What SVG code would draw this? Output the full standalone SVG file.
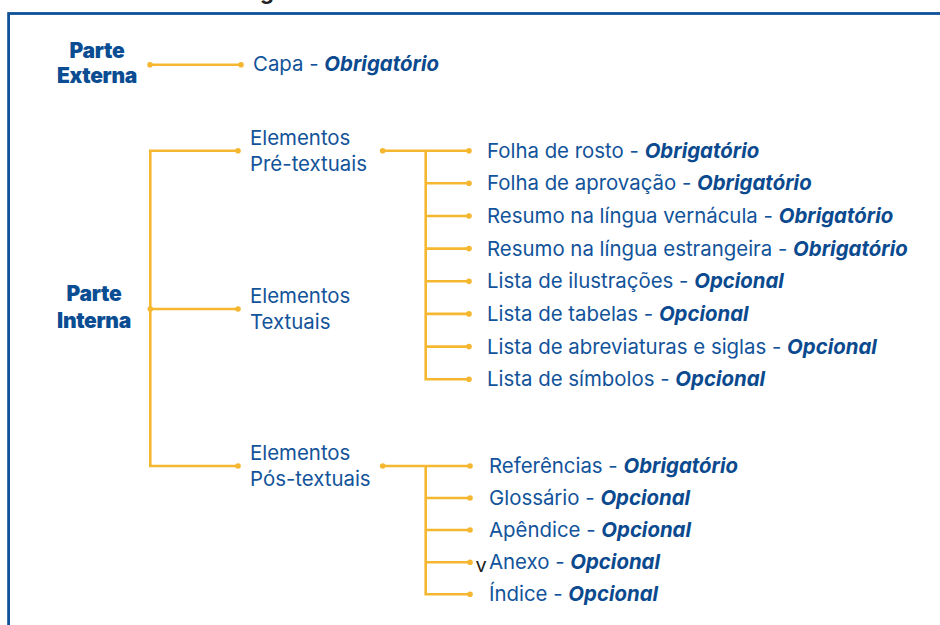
<svg xmlns="http://www.w3.org/2000/svg" width="940" height="625" viewBox="0 0 940 625">
<style>
.frame{fill:none;stroke:#0f5298;stroke-width:2.8}
.ln{fill:none;stroke:#f5b730;stroke-width:2.6;stroke-linejoin:miter}
.dot{fill:#f5b730}
.hd{font-family:Inter,"Noto Sans",sans-serif;font-weight:900;font-size:21px;fill:#0b4d92;text-anchor:middle;letter-spacing:-0.3px}
.t{font-family:Inter,"Noto Sans",sans-serif;font-weight:400;font-size:20.4px;fill:#12539a}
.b{font-weight:700;font-style:italic;fill:#0b4a8e}
.ttl{font-family:Inter,"Noto Sans",sans-serif;font-weight:700;font-size:22px;fill:#222}
</style>
<rect width="940" height="625" fill="#fff"/>
<text class="ttl" x="260" y="-1">g</text>
<rect class="frame" x="8.6" y="13.5" width="960" height="640"/>
<g id="connectors">
<line class="ln" x1="150" y1="64.7" x2="241" y2="64.7"/>
<circle class="dot" cx="150" cy="64.7" r="2.8"/><circle class="dot" cx="241" cy="64.7" r="2.8"/>
<polyline class="ln" points="238,150.7 150.3,150.7 150.3,466 238,466"/>
<line class="ln" x1="150.3" y1="309" x2="238" y2="309"/>
<circle class="dot" cx="238" cy="150.7" r="2.8"/><circle class="dot" cx="150.3" cy="309" r="2.8"/><circle class="dot" cx="238" cy="309" r="2.8"/><circle class="dot" cx="238" cy="466" r="2.8"/>
<line class="ln" x1="382.7" y1="150.7" x2="469" y2="150.7"/>
<polyline class="ln" points="425.7,150.7 425.7,379.2 469,379.2"/>
<line class="ln" x1="425.7" y1="183.3" x2="469" y2="183.3"/>
<line class="ln" x1="425.7" y1="216" x2="469" y2="216"/>
<line class="ln" x1="425.7" y1="248.6" x2="469" y2="248.6"/>
<line class="ln" x1="425.7" y1="281.3" x2="469" y2="281.3"/>
<line class="ln" x1="425.7" y1="313.9" x2="469" y2="313.9"/>
<line class="ln" x1="425.7" y1="346.6" x2="469" y2="346.6"/>
<circle class="dot" cx="382.7" cy="150.7" r="2.8"/>
<circle class="dot" cx="469" cy="150.7" r="2.8"/><circle class="dot" cx="469" cy="183.3" r="2.8"/><circle class="dot" cx="469" cy="216" r="2.8"/><circle class="dot" cx="469" cy="248.6" r="2.8"/><circle class="dot" cx="469" cy="281.3" r="2.8"/><circle class="dot" cx="469" cy="313.9" r="2.8"/><circle class="dot" cx="469" cy="346.6" r="2.8"/><circle class="dot" cx="469" cy="379.2" r="2.8"/>
<line class="ln" x1="382.7" y1="466" x2="470" y2="466"/>
<polyline class="ln" points="425.7,466 425.7,594.3 470,594.3"/>
<line class="ln" x1="425.7" y1="498" x2="470" y2="498"/>
<line class="ln" x1="425.7" y1="530" x2="470" y2="530"/>
<line class="ln" x1="425.7" y1="562.3" x2="470" y2="562.3"/>
<circle class="dot" cx="382.7" cy="466" r="2.8"/>
<circle class="dot" cx="470" cy="466" r="2.8"/><circle class="dot" cx="470" cy="498" r="2.8"/><circle class="dot" cx="470" cy="530" r="2.8"/><circle class="dot" cx="470" cy="562.3" r="2.8"/><circle class="dot" cx="470" cy="594.3" r="2.8"/>
</g>
<g id="parte-externa"><text class="hd" x="97" y="58.3">Parte</text><text class="hd" x="97" y="83.3">Externa</text></g>
<g id="parte-interna"><text class="hd" x="94" y="300.5">Parte</text><text class="hd" x="94" y="327.5">Interna</text></g>
<g id="capa"><text class="t" x="253" y="71">Capa - <tspan class="b">Obrigatório</tspan></text></g>
<g id="pre-textuais"><text class="t" x="250" y="145">Elementos</text><text class="t" x="250" y="171">Pré-textuais</text></g>
<g id="textuais"><text class="t" x="250" y="302.7">Elementos</text><text class="t" x="250" y="329.3">Textuais</text></g>
<g id="pos-textuais"><text class="t" x="250" y="460">Elementos</text><text class="t" x="250" y="486">Pós-textuais</text></g>
<g id="folha-rosto"><text class="t" x="487" y="157.7">Folha de rosto - <tspan class="b">Obrigatório</tspan></text></g>
<g id="folha-aprovacao"><text class="t" x="487" y="190.3">Folha de aprovação - <tspan class="b">Obrigatório</tspan></text></g>
<g id="resumo-vernacula"><text class="t" x="487" y="223">Resumo na língua vernácula - <tspan class="b">Obrigatório</tspan></text></g>
<g id="resumo-estrangeira"><text class="t" x="487" y="255.6">Resumo na língua estrangeira - <tspan class="b">Obrigatório</tspan></text></g>
<g id="lista-ilustracoes"><text class="t" x="487" y="288.3">Lista de ilustrações - <tspan class="b">Opcional</tspan></text></g>
<g id="lista-tabelas"><text class="t" x="487" y="320.9">Lista de tabelas - <tspan class="b">Opcional</tspan></text></g>
<g id="lista-abreviaturas"><text class="t" x="487" y="353.6">Lista de abreviaturas e siglas - <tspan class="b">Opcional</tspan></text></g>
<g id="lista-simbolos"><text class="t" x="487" y="386.2">Lista de símbolos - <tspan class="b">Opcional</tspan></text></g>
<g id="referencias"><text class="t" x="489" y="473">Referências - <tspan class="b">Obrigatório</tspan></text></g>
<g id="glossario"><text class="t" x="489" y="505">Glossário - <tspan class="b">Opcional</tspan></text></g>
<g id="apendice"><text class="t" x="489" y="537">Apêndice - <tspan class="b">Opcional</tspan></text></g>
<g id="anexo"><text x="475.5" y="571.7" font-family="Inter,sans-serif" font-size="20" fill="#222">v</text><text class="t" x="489" y="569.3">Anexo - <tspan class="b">Opcional</tspan></text></g>
<g id="indice"><text class="t" x="489" y="601.3">Índice - <tspan class="b">Opcional</tspan></text></g>
</svg>
